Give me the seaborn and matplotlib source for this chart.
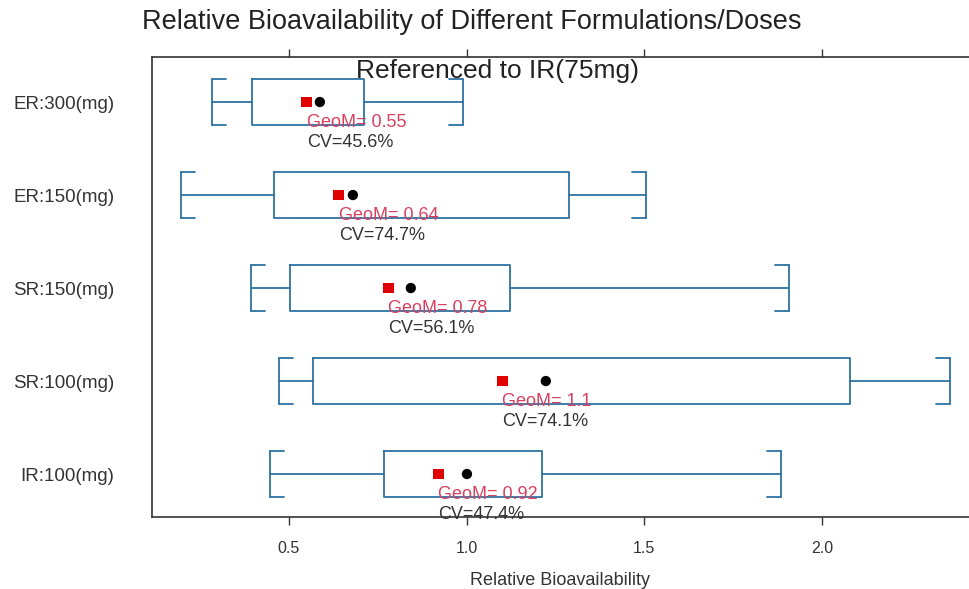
import matplotlib
matplotlib.use("Agg")
import matplotlib.pyplot as plt
import seaborn as sns
import pandas as pd

# Formulation / dose groups, top to bottom
groups = ["ER:300(mg)", "ER:150(mg)", "SR:150(mg)", "SR:100(mg)", "IR:100(mg)"]

# Box summary of relative bioavailability (ratio to IR 75 mg)
whisker_low = [0.283, 0.196, 0.393, 0.472, 0.447]
q1 = [0.396, 0.458, 0.503, 0.568, 0.767]
q3 = [0.711, 1.288, 1.122, 2.079, 1.212]
whisker_high = [0.990, 1.505, 1.907, 2.360, 1.885]

# Geometric and arithmetic means, coefficient of variation
geo_mean = [0.55, 0.64, 0.78, 1.1, 0.92]
arith_mean = [0.587, 0.680, 0.843, 1.223, 1.001]
cv_pct = [45.6, 74.7, 56.1, 74.1, 47.4]

x_ticks = [0.5, 1.0, 1.5, 2.0]

sns.set_style("white")
plt.rcParams["font.family"] = ["Liberation Sans", "DejaVu Sans"]

BOX_COLOR = "#2f72a2"
FRAME_COLOR = "#333333"

fig = plt.figure(figsize=(9.69, 5.89), dpi=100)
ax = fig.add_axes([152 / 969, 1 - 517 / 589, 1 - 152 / 969, (517 - 57) / 589])

positions = list(range(len(groups)))
stats = []
for i, g in enumerate(groups):
    stats.append(dict(label=g, whislo=whisker_low[i], q1=q1[i], med=q1[i],
                      q3=q3[i], whishi=whisker_high[i], fliers=[]))

box_w = 0.5
line_kw = dict(color=BOX_COLOR, linewidth=1.3)
ax.bxp(stats, positions=positions, widths=box_w, orientation="horizontal",
       showfliers=False, capwidths=box_w,
       boxprops=line_kw, whiskerprops=line_kw, capprops=line_kw,
       medianprops=dict(visible=False), manage_ticks=False)

# Inward stubs on the whisker caps, giving bracket-shaped ends
stub = 0.04
for i, p in enumerate(positions):
    for yy in (p - box_w / 2, p + box_w / 2):
        ax.plot([whisker_low[i], whisker_low[i] + stub], [yy, yy], **line_kw)
        ax.plot([whisker_high[i] - stub, whisker_high[i]], [yy, yy], **line_kw)

df = pd.DataFrame({"pos": positions, "geo": geo_mean, "mean": arith_mean})
sns.scatterplot(data=df, x="geo", y="pos", marker="s", s=60, color="#e00000",
                edgecolor="none", ax=ax, zorder=4)
sns.scatterplot(data=df, x="mean", y="pos", marker="o", s=55, color="black",
                edgecolor="none", ax=ax, zorder=4)

for i, p in enumerate(positions):
    ax.text(geo_mean[i], p + 0.225, f"GeoM= {geo_mean[i]:g}", color="#d9405e",
            fontsize=13, ha="left", va="center", zorder=5)
    ax.text(geo_mean[i], p + 0.44, f"CV={cv_pct[i]:.1f}%", color="#333333",
            fontsize=13, ha="left", va="center", zorder=5)

ax.set_xlim(0.1146, 2.414)
ax.set_ylim(4.462, -0.484)
ax.set_yticks(positions)
ax.set_yticklabels(groups)
ax.set_xticks(x_ticks)
ax.set_xticklabels([f"{t:.1f}" for t in x_ticks])
ax.set_ylabel("")
ax.set_xlabel("Relative Bioavailability", fontsize=13, color="#333333", labelpad=12)

ax.tick_params(axis="x", which="both", bottom=True, top=True, direction="out",
               length=6, width=1.0, color=FRAME_COLOR, labelsize=11.5,
               labelcolor="#333333", pad=11)
ax.tick_params(axis="y", left=False, labelsize=13.5, labelcolor="#333333", pad=23.5)

for side in ("left", "top", "bottom"):
    ax.spines[side].set_color(FRAME_COLOR)
    ax.spines[side].set_linewidth(1.2)
ax.spines["right"].set_visible(False)

fig.text(472 / 969, 1 - 22 / 589, "Relative Bioavailability of Different Formulations/Doses",
         ha="center", va="center", fontsize=19.5, color="#222222")
fig.text(497 / 969, 1 - 71 / 589, "Referenced to IR(75mg)",
         ha="center", va="center", fontsize=19, color="#222222")

fig.savefig("out.png", dpi=100)
